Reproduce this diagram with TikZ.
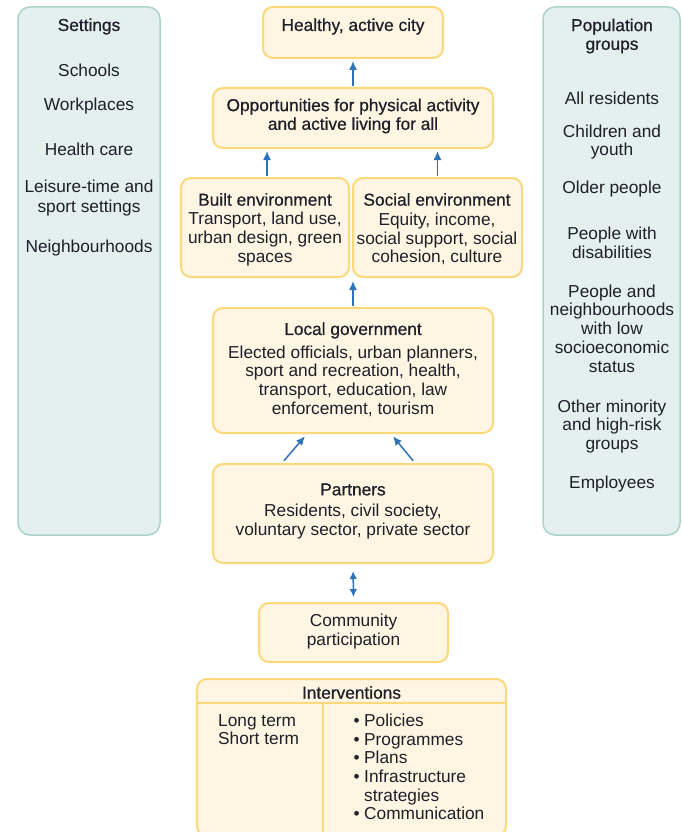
\documentclass[tikz,border=0pt]{standalone}
\usepackage{fontspec}
\setmainfont{Liberation Sans}
\newfontfamily\tfont[FakeBold=0.7]{Liberation Sans}
\usetikzlibrary{arrows.meta,calc}
\definecolor{ybord}{HTML}{FBD97A}
\definecolor{yfill}{HTML}{FEF6E2}
\definecolor{tbord}{HTML}{A9D3C9}
\definecolor{tfill}{HTML}{E3F0EE}
\definecolor{ablue}{HTML}{2D72B8}
\definecolor{ink}{HTML}{1F1F2A}
\tikzset{
  ybox/.style={draw=ybord,fill=yfill,line width=2pt,rounded corners=10pt,minimum width=#1,inner sep=0pt},
  tbox/.style={draw=tbord,fill=tfill,line width=1.5pt,rounded corners=12pt,minimum width=#1,inner sep=0pt},
  txt/.style={text=ink,inner sep=0pt,align=center,font=\fontsize{17.3}{18.7}\selectfont},
  ttl/.style={text=ink,inner sep=0pt,align=center,font=\fontsize{17.3}{18.7}\tfont},
  arr/.style={draw=ablue,line width=1.5pt,-{Latex[length=9pt,width=8pt]}},
  darr/.style={draw=ablue,line width=1.5pt,{Latex[length=8pt,width=7.5pt]}-{Latex[length=8pt,width=7.5pt]}}
}
\begin{document}
\begin{tikzpicture}[x=1pt,y=-1pt]
\useasboundingbox (0,0) rectangle (681,832);
% side columns
\node[tbox=142pt,minimum height=528pt] (settings) at (89,271) {};
\node[tbox=137pt,minimum height=528pt] (popgroups) at (611.5,271) {};
% main boxes
\node[ybox=180pt,minimum height=51pt] (city) at (353,32.5) {};
\node[ybox=280pt,minimum height=60pt] (opp) at (353,118) {};
\node[ybox=168pt,minimum height=99pt] (built) at (265,227.5) {};
\node[ybox=169pt,minimum height=99pt] (social) at (437.5,227.5) {};
\node[ybox=280pt,minimum height=125pt] (localgov) at (353,370.5) {};
\node[ybox=280pt,minimum height=99pt] (partners) at (353,513.5) {};
\node[ybox=189pt,minimum height=59pt] (community) at (353.5,632.5) {};
\node[ybox=309pt,minimum height=157pt] (interv) at (351.5,757.5) {};
\draw[ybord,line width=2pt] (interv.west |- 0,703) coordinate (hl) -- (interv.east |- 0,703) coordinate (hr);
\draw[ybord,line width=2pt] (323,703) coordinate (vt) -- (323,836) coordinate (vb);
% settings texts
\begin{scope}[yshift=-1.5pt]
\node[ttl] (settingsT) at (89,25) {Settings};
\node[txt] (s1) at (89,69) {Schools};
\node[txt] (s2) at (89,105) {Workplaces};
\node[txt] (s3) at (89,148) {Health care};
\node[txt,align=center,font=\fontsize{17.3}{20}\selectfont] (s4) at (89,197) {Leisure-time and\\sport settings};
\node[txt] (s5) at (89,247) {Neighbourhoods};
% population texts
\node[ttl] (popT) at (612,34.5) {Population\\groups};
\node[txt] (p1) at (612,97) {All residents};
\node[txt] (p2) at (612,140.5) {Children and\\youth};
\node[txt] (p3) at (612,188) {Older people};
\node[txt] (p4) at (612,241.5) {People with\\disabilities};
\node[txt] (p5) at (612,327) {People and\\neighbourhoods\\with low\\socioeconomic\\status};
\node[txt] (p6) at (612,425) {Other minority\\and high-risk\\groups};
\node[txt] (p7) at (612,483) {Employees};
% main texts
\node[ttl] (cityT) at (353,25) {Healthy, active city};
\node[ttl] (oppT) at (353,114.5) {Opportunities for physical activity\\and active living for all};
\node[ttl] (builtT) at (265,198) {Built environment};
\node[txt] (builtB) at (265,237.5) {Transport, land use,\\urban design, green\\spaces};
\node[ttl] (socialT) at (437,198) {Social environment};
\node[txt] (socialB) at (437,237.5) {Equity, income,\\social support, social\\cohesion, culture};
\node[ttl] (lgT) at (353,329) {Local government};
\node[txt] (lgB) at (353,379.5) {Elected officials, urban planners,\\sport and recreation, health,\\transport, education, law\\enforcement, tourism};
\node[ttl] (pT) at (353,488) {Partners};
\node[txt] (pB) at (353,520) {Residents, civil society,\\voluntary sector, private sector};
\node[txt] (cT) at (353.5,630) {Community\\participation};
\node[ttl] (iT) at (351.5,691) {Interventions};
\node[txt,align=left,anchor=west] (iL) at (218,728) {Long term\\Short term};
\node[txt,align=left,anchor=west] (iR) at (349,765.5) {\makebox[15pt][c]{•}Policies\\\makebox[15pt][c]{•}Programmes\\\makebox[15pt][c]{•}Plans\\\makebox[15pt][c]{•}Infrastructure\\\hspace*{15pt}strategies\\\makebox[15pt][c]{•}Communication};
\end{scope}
% arrows
\draw[arr,shorten <=1pt,shorten >=2pt] (opp.north) -- (city.south);
\draw[arr,shorten <=1pt,shorten >=2pt] ([xshift=2pt]built.north) -- ([xshift=2pt]built.north |- opp.south);
\draw[arr,shorten <=1pt,shorten >=2pt] (social.north) -- (social.north |- opp.south);
\draw[arr,shorten <=1pt,shorten >=3pt] (localgov.north) -- (localgov.north |- built.south);
\draw[arr,shorten <=3pt,shorten >=3pt] ([xshift=70pt]partners.north west) -- ([xshift=95pt]localgov.south west);
\draw[arr,shorten <=3pt,shorten >=3pt] ([xshift=-79pt]partners.north east) -- ([xshift=-103pt]localgov.south east);
\draw[darr,shorten <=7pt,shorten >=5pt] (partners.south) -- (community.north);
\end{tikzpicture}
\end{document}
